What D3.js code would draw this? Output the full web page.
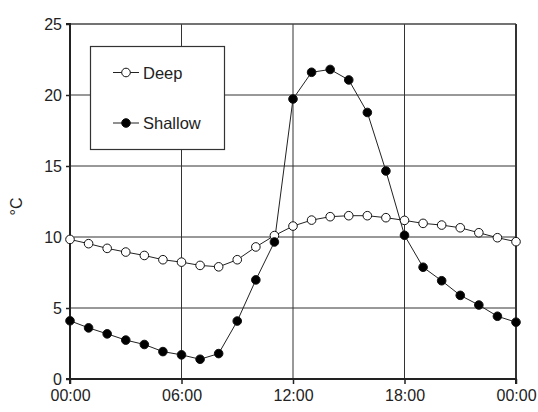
<!DOCTYPE html>
<html>
<head>
<meta charset="utf-8">
<script src="https://cdn.jsdelivr.net/npm/d3@7"></script>
<style>
  body { margin: 0; background: #fff; }
  text { font-family: "Liberation Sans", Arial, sans-serif; fill: #222; }
</style>
</head>
<body>
<div id="chart"></div>
<script>
var w = 538, h = 412;
var margin = {top: 24, right: 22, bottom: 33, left: 70};

// hours 0..24
var hours = d3.range(0, 25);
var deep = [9.83, 9.53, 9.2, 8.94, 8.7, 8.4, 8.23, 8.0, 7.9, 8.4, 9.3, 10.1, 10.77,
            11.19, 11.43, 11.5, 11.5, 11.36, 11.17, 10.96, 10.84, 10.65, 10.3, 9.95, 9.67];
var shallow = [4.1, 3.6, 3.18, 2.74, 2.43, 1.93, 1.7, 1.39, 1.79, 4.08, 6.98, 9.65, 19.72,
               21.6, 21.8, 21.06, 18.77, 14.65, 10.12, 7.87, 6.92, 5.89, 5.21, 4.42, 4.0];
var xTicks = [0, 6, 12, 18, 24];
var xTickLabels = ["00:00", "06:00", "12:00", "18:00", "00:00"];
var yTicks = [0, 5, 10, 15, 20, 25];
var seriesNames = ["Deep", "Shallow"];

var svg = d3.select("#chart").append("svg")
    .attr("width", w)
    .attr("height", h)

var x = d3.scaleLinear().domain([0, 24]).range([margin.left, w - margin.right]);
var y = d3.scaleLinear().domain([0, 25]).range([h - margin.bottom, margin.top]);

// grid
svg.append("g").selectAll("line.gx")
    .data(xTicks.slice(1, -1))
    .enter().append("line")
    .attr("x1", function(d){ return x(d); })
    .attr("x2", function(d){ return x(d); })
    .attr("y1", y(0)).attr("y2", y(25))
    .style("stroke", "#333").style("stroke-width", 1);
svg.append("g").selectAll("line.gy")
    .data(yTicks.slice(1, -1))
    .enter().append("line")
    .attr("x1", x(0)).attr("x2", x(24))
    .attr("y1", function(d){ return y(d); })
    .attr("y2", function(d){ return y(d); })
    .style("stroke", "#333").style("stroke-width", 1);

// frame top / right
svg.append("line").attr("x1", x(0)).attr("x2", x(24)).attr("y1", y(25)).attr("y2", y(25))
    .style("stroke", "#444").style("stroke-width", 1.5);
svg.append("line").attr("x1", x(24)).attr("x2", x(24)).attr("y1", y(25)).attr("y2", y(0))
    .style("stroke", "#333").style("stroke-width", 2);

// axes
var yAxis = d3.axisLeft(y).tickValues(yTicks).tickSize(4).tickPadding(4);
var xAxis = d3.axisBottom(x).tickValues(xTicks).tickSize(5).tickPadding(6)
    .tickFormat(function(d, i){ return xTickLabels[i]; });

var gy = svg.append("g").attr("transform", "translate(" + x(0) + ",0)").call(yAxis);
var gx = svg.append("g").attr("transform", "translate(0," + y(0) + ")").call(xAxis);
[gx, gy].forEach(function(g){
    g.select(".domain").style("stroke", "#222").style("stroke-width", 2);
    g.selectAll(".tick line").style("stroke", "#222").style("stroke-width", 1.5);
    g.selectAll(".tick text").style("font-size", "16px").style("fill", "#222")
        .style("font-family", "'Liberation Sans', Arial, sans-serif");
});
gy.select(".domain").attr("d", "M-4," + y(0) + "H0V" + y(25) + "H-4");
gx.select(".domain").attr("d", "M" + x(0) + ",5V0H" + x(24) + "V5");

svg.append("text")
    .attr("transform", "translate(22," + ((y(0) + y(25)) / 2 + 5) + ") rotate(-90)")
    .attr("text-anchor", "middle")
    .style("font-size", "16px")
    .text("°C");

// lines
var line = d3.line()
    .x(function(d, i){ return x(hours[i]); })
    .y(function(d){ return y(d); });

var series = [
    {name: seriesNames[0], values: deep, fill: "#fff"},
    {name: seriesNames[1], values: shallow, fill: "#000"}
];

series.forEach(function(s){
    svg.append("path")
        .datum(s.values)
        .attr("d", line)
        .style("fill", "none")
        .style("stroke", "#222")
        .style("stroke-width", 1);
});
series.forEach(function(s){
    svg.append("g").selectAll("circle")
        .data(s.values)
        .enter().append("circle")
        .attr("cx", function(d, i){ return x(hours[i]); })
        .attr("cy", function(d){ return y(d); })
        .attr("r", 4.3)
        .style("fill", s.fill)
        .style("stroke", "#111")
        .style("stroke-width", 1);
});

// legend
var legend = svg.append("g");
legend.append("rect")
    .attr("x", 90.5).attr("y", 46.5)
    .attr("width", 134).attr("height", 103)
    .style("fill", "#fff").style("stroke", "#333").style("stroke-width", 1.2);
series.forEach(function(s, i){
    var ly = 72.5 + i * 50.5;
    legend.append("line")
        .attr("x1", 113).attr("x2", 139).attr("y1", ly).attr("y2", ly)
        .style("stroke", "#222").style("stroke-width", 1);
    legend.append("circle")
        .attr("cx", 126).attr("cy", ly).attr("r", 4.3)
        .style("fill", s.fill).style("stroke", "#111").style("stroke-width", 1);
    legend.append("text")
        .attr("x", 143).attr("y", ly + 6)
        .style("font-size", "16.5px")
        .text(s.name);
});
</script>
</body>
</html>
